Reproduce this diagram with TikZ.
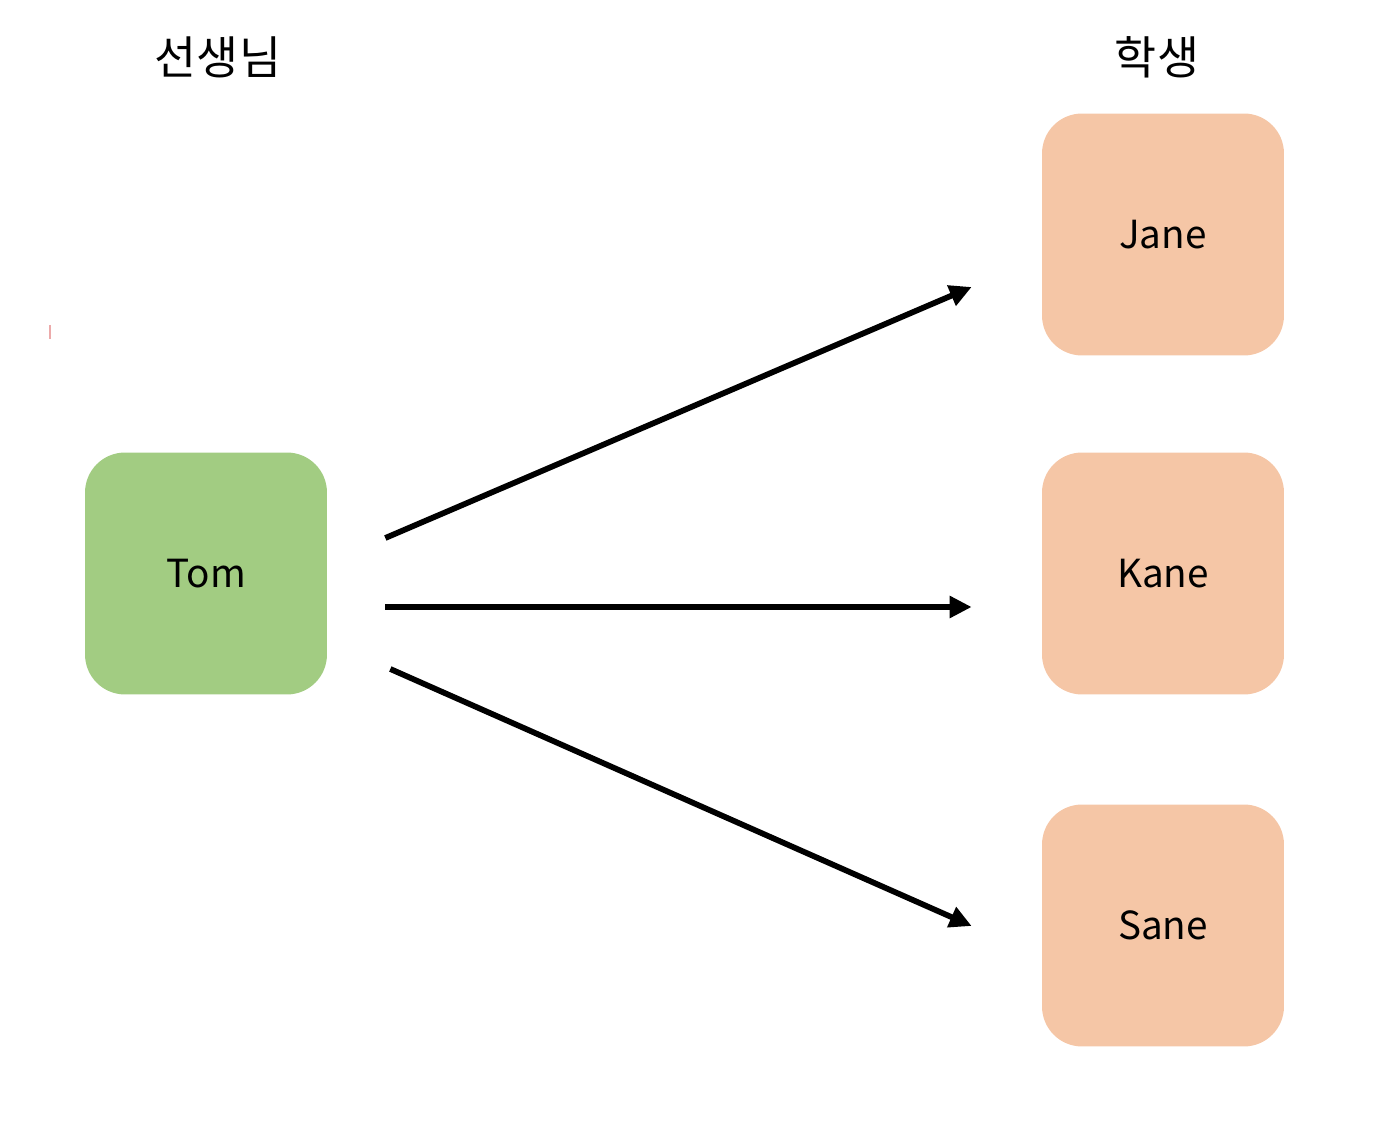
\documentclass[tikz,border=0pt]{standalone}
\usepackage{fontspec}
\setmainfont{Noto Sans CJK KR}
\usetikzlibrary{arrows.meta,calc,positioning}
\definecolor{teacherGreen}{RGB}{162,204,130}
\definecolor{studentPeach}{RGB}{245,198,166}
\definecolor{markPink}{RGB}{236,170,170}
\tikzset{
	person/.style={minimum width=4.84cm,minimum height=4.84cm,rounded corners=0.8cm,inner sep=0pt,font=\fontsize{22}{26}\selectfont},
	teacher/.style={person,fill=teacherGreen},
	student/.style={person,fill=studentPeach},
	title/.style={font=\fontsize{26}{31}\selectfont},
	link/.style={line width=0.115cm,-{Triangle[length=0.44cm,width=0.42cm]}},
}
\begin{document}
\begin{tikzpicture}[x=0.02cm,y=-0.02cm]
								\useasboundingbox (0,0) rectangle (1394,1124);
								\node [teacher] (tom) at (206,573.5){Tom};
								\node [student] (jane) at (1163,234.5){Jane};
								\node [student] (kane) at (1163,573.5){Kane};
								\node [student] (sane) at (1163,925.5){Sane};
								\node [title] (lblTeacher) at (218,57){선생님};
								\node [title] (lblStudent) at (1157,57){학생};
								% arrow ends
								\coordinate (tomUp) at ($(tom.east)+(58,-35.5)$);
								\coordinate (tomMid) at ($(tom.east)+(58,33.5)$);
								\coordinate (tomLow) at ($(tom.east)+(63,95.5)$);
								\coordinate (janeIn) at ($(jane.west)+(-70,52.5)$);
								\coordinate (kaneIn) at ($(kane.west)+(-70,33.5)$);
								\coordinate (saneIn) at ($(sane.west)+(-70,0.5)$);
								\draw [link] (tomUp) -- (janeIn);
								\draw [link] (tomMid) -- (kaneIn);
								\draw [link] (tomLow) -- (saneIn);
								\draw [markPink,line width=0.03cm] (50,325) -- (50,339);
							\end{tikzpicture}
\end{document}
